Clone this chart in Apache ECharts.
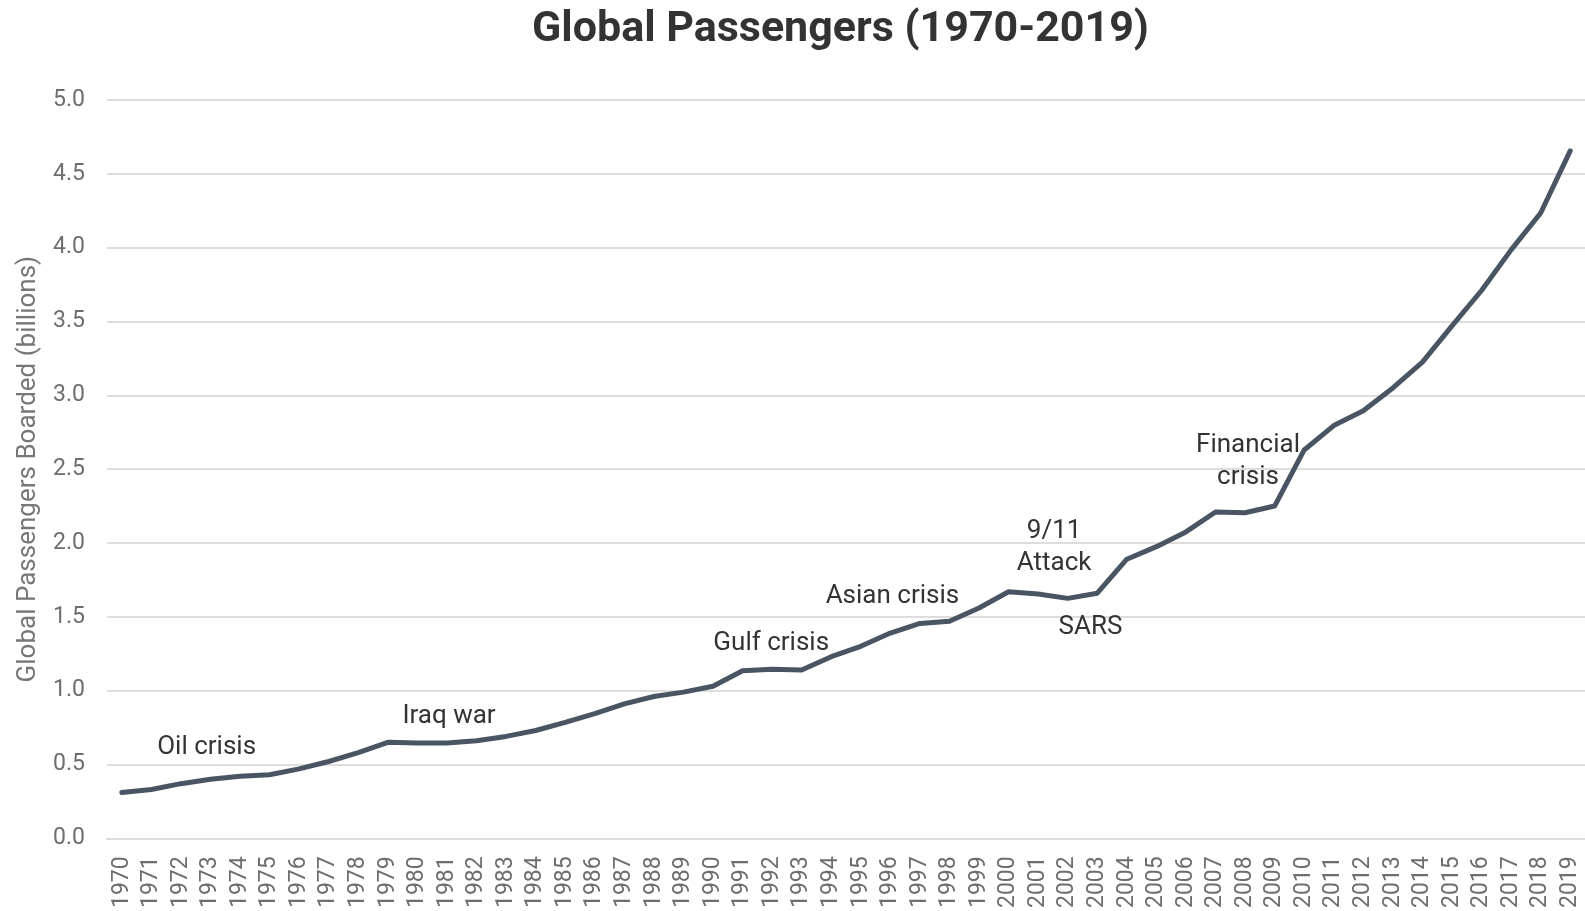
<!DOCTYPE html>
<html>
<head>
<meta charset="utf-8">
<script src="https://cdn.jsdelivr.net/npm/echarts@6/dist/echarts.min.js"></script>
<style>
html,body{margin:0;padding:0;background:#fff;}
#chart{width:1585px;height:911px;}
</style>
</head>
<body>
<div id="chart"></div>
<script>
const years = [];
for (let y = 1970; y <= 2019; y++) years.push(String(y));

const passengers = [
  0.31, 0.33, 0.37, 0.40, 0.42, 0.43, 0.47, 0.52, 0.58, 0.65,
  0.645, 0.645, 0.66, 0.69, 0.73, 0.785, 0.845, 0.91, 0.96, 0.99,
  1.03, 1.135, 1.145, 1.14, 1.23, 1.30, 1.39, 1.455, 1.47, 1.56,
  1.67, 1.655, 1.625, 1.66, 1.89, 1.975, 2.075, 2.21, 2.205, 2.25,
  2.63, 2.795, 2.895, 3.05, 3.225, 3.47, 3.71, 3.985, 4.235, 4.655
];

const yTicks = [0, 0.5, 1.0, 1.5, 2.0, 2.5, 3.0, 3.5, 4.0, 4.5, 5.0];

// annotations: [text, x position (category index), y value]
const annotations = [
  ['Oil crisis', 2.87, 0.615],
  ['Iraq war', 11.07, 0.825],
  ['Gulf crisis', 21.97, 1.32],
  ['Asian crisis', 26.07, 1.64],
  ['9/11\nAttack', 31.54, 1.97],
  ['SARS', 32.77, 1.43],
  ['Financial\ncrisis', 38.1, 2.55]
];

const chart = echarts.init(document.getElementById('chart'));
const option = {
  animation: false,
  backgroundColor: '#ffffff',
  title: {
    text: 'Global Passengers (1970-2019)',
    left: 527,
    top: 4,
    textStyle: {fontFamily: 'Roboto', fontWeight: 'bold', fontSize: 43, color: '#333333'}
  },
  grid: {left: 107, top: 100, width: 1486, bottom: 71, containLabel: false},
  xAxis: {
    type: 'category',
    data: years,
    boundaryGap: true,
    axisLine: {show: true, lineStyle: {color: '#dddddd', width: 2}},
    axisTick: {show: false},
    axisLabel: {
      rotate: 90, interval: 0, margin: 18,
      fontFamily: 'Roboto', fontSize: 23, color: '#6e6e6e'
    }
  },
  yAxis: {
    type: 'value',
    min: yTicks[0], max: yTicks[yTicks.length - 1], interval: 0.5,
    name: 'Global Passengers Boarded (billions)',
    nameLocation: 'middle',
    nameGap: 66,
    nameTextStyle: {fontFamily: 'Roboto', fontSize: 26, color: '#777777'},
    axisLine: {show: false},
    axisTick: {show: false},
    splitLine: {lineStyle: {color: '#dddddd', width: 2}},
    axisLabel: {
      margin: 22, fontFamily: 'Roboto', fontSize: 23, color: '#6e6e6e',
      formatter: v => v.toFixed(1)
    }
  },
  series: [{
    type: 'line',
    data: passengers,
    symbol: 'none',
    lineStyle: {color: '#4a5563', width: 5, cap: 'round', join: 'round'},
    itemStyle: {color: '#4a5563'}
  }]
};
chart.setOption(option);

function toPixel(xi, v) {
  const i0 = Math.floor(xi), f = xi - i0;
  const p0 = chart.convertToPixel({xAxisIndex: 0, yAxisIndex: 0}, [i0, v]);
  const p1 = chart.convertToPixel({xAxisIndex: 0, yAxisIndex: 0}, [i0 + 1, v]);
  return [p0[0] + (p1[0] - p0[0]) * f, p0[1]];
}

chart.setOption({
  graphic: annotations.map(a => {
    const p = toPixel(a[1], a[2]);
    return {
      type: 'text',
      x: p[0], y: p[1],
      style: {
        text: a[0],
        fontFamily: 'Roboto', fontSize: 26, fill: '#333333',
        textAlign: 'center', textVerticalAlign: 'middle', lineHeight: 32
      }
    };
  })
});
</script>
</body>
</html>
